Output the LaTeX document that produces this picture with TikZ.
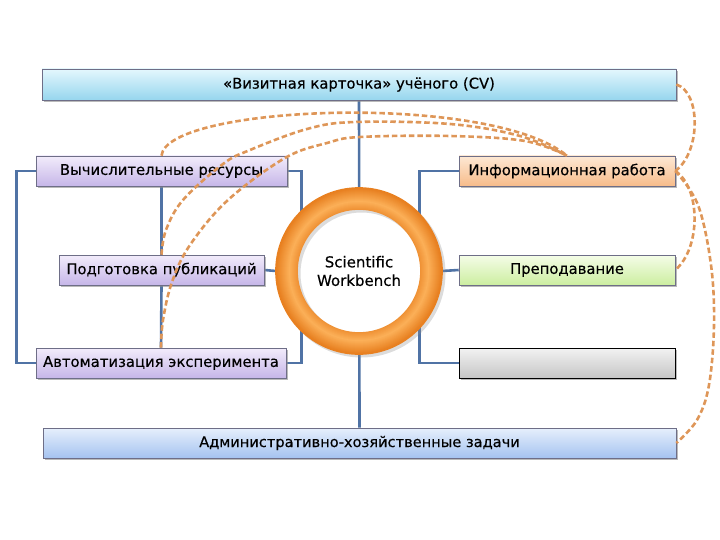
\documentclass[tikz,border=0pt]{standalone}
\usepackage{fontspec}
\setmainfont[FakeBold=0.35]{DejaVu Sans}
\usetikzlibrary{shadows,calc,backgrounds}
\definecolor{linkblue}{RGB}{80,115,165}
\definecolor{dashor}{RGB}{222,150,88}
\definecolor{ringhi}{RGB}{252,176,88}
\definecolor{ringdk}{RGB}{230,124,28}
\definecolor{boxedge}{RGB}{110,110,135}
\tikzset{
  boxbase/.style={draw=boxedge, line width=0.6pt, inner sep=0pt, font=\fontsize{14.8}{17}\selectfont,
    drop shadow={shadow xshift=2pt, shadow yshift=-2pt, fill=black!45, opacity=0.6}},
  cvbox/.style={boxbase, top color={rgb,255:red,228;green,247;blue,253}, bottom color={rgb,255:red,150;green,214;blue,238}},
  purplebox/.style={boxbase, top color={rgb,255:red,242;green,236;blue,251}, bottom color={rgb,255:red,198;green,182;blue,232}},
  infobox/.style={boxbase, top color={rgb,255:red,253;green,232;blue,212}, bottom color={rgb,255:red,247;green,188;blue,138}},
  greenbox/.style={boxbase, top color={rgb,255:red,245;green,253;blue,232}, bottom color={rgb,255:red,204;green,238;blue,160}},
  graybox/.style={boxbase, draw=black, top color={rgb,255:red,242;green,242;blue,242}, bottom color={rgb,255:red,198;green,198;blue,198}},
  adminbox/.style={boxbase, top color={rgb,255:red,230;green,239;blue,252}, bottom color={rgb,255:red,165;green,195;blue,240}},
  link/.style={draw=linkblue, line width=2.6pt},
  relation/.style={draw=dashor, line width=2.6pt, dash pattern=on 5.5pt off 3pt},
}
\begin{document}
\begin{tikzpicture}[x=1pt,y=-1pt]
\useasboundingbox (0,0) rectangle (720,540);
% boxes
\node[cvbox, minimum width=634pt, minimum height=31pt] (top) at (359,84.5) {«Визитная карточка» учёного (CV)};
\node[purplebox, minimum width=251pt, minimum height=30pt] (vr) at (161.5,171) {Вычислительные ресурсы};
\node[purplebox, minimum width=205pt, minimum height=30pt] (pp) at (161.5,270) {Подготовка публикаций};
\node[purplebox, minimum width=250pt, minimum height=30pt] (ae) at (161,363) {Автоматизация эксперимента};
\node[infobox, minimum width=216pt, minimum height=30pt] (ir) at (567,171) {Информационная работа};
\node[greenbox, minimum width=216pt, minimum height=30pt] (pr) at (567,270) {Преподавание};
\node[graybox, minimum width=216pt, minimum height=30pt] (gb) at (567,363) {};
\node[adminbox, minimum width=633pt, minimum height=30pt] (bot) at (359.5,443) {\fontsize{14.6}{17}\selectfont Административно-хозяйственные задачи};
\node[circle, minimum size=166pt, inner sep=0pt] (ring) at (359,271) {};
% blue connectors (behind)
\begin{scope}[on background layer]
\path[link] (vr.west) -- ++(-19,0) |- (ae.west);
\path[link] (vr.south) -- (pp.north);
\path[link] (pp.south) -- (ae.north);
\path[link] (vr.east) -- ++(14,0) |- (ae.east);
\path[link] (pp.east) -- (ring.west);
\path[link] (top.south) -- (bot.north);
\path[link] (ir.west) -- ++(-39,0) |- (gb.west);
\path[link] (pr.west) -- (ring.east);
\end{scope}
% ring
\fill[white] (ring.center) circle (63);
\fill[black!45, opacity=0.3, even odd rule] ($(ring.center)+(2.5,2.5)$) circle (84) circle (61);
\foreach \i in {0,...,21}{
  \pgfmathsetmacro{\p}{100-abs(\i-8)*100/14}
  \draw[ringhi!\p!ringdk, line width=1.7pt] (ring.center) circle (62+\i);
}
\node[align=center, font=\fontsize{15}{18.5}\selectfont] (sw) at (ring.center) {Scientific\\Workbench};
% dashed relations
\draw[relation] (vr.north) .. controls (166,105) and (490,92) .. (ir.north);
\draw[relation] plot[smooth, tension=0.6] coordinates {(pp.north) (166,230) (183,200) (223,164) (250,150) (307,129) (355,122) (450,124) (520,136) (ir.north)};
\draw[relation] plot[smooth, tension=0.6] coordinates {(ae.north) (163,320) (172,282) (190,245) (228,200) (285,158) (327,143) (360,137) (450,136) (525,141) (ir.north)};
\draw[relation] (top.east) .. controls (701,92) and (701,152) .. (ir.east);
\draw[relation] (ir.east) .. controls (701,188) and (701,248) .. (pr.east);
\draw[relation] plot[smooth, tension=0.6] coordinates {(ir.east) (698,205) (711,265) (714,325) (709,385) (697,420) (bot.east)};
\end{tikzpicture}
\end{document}
